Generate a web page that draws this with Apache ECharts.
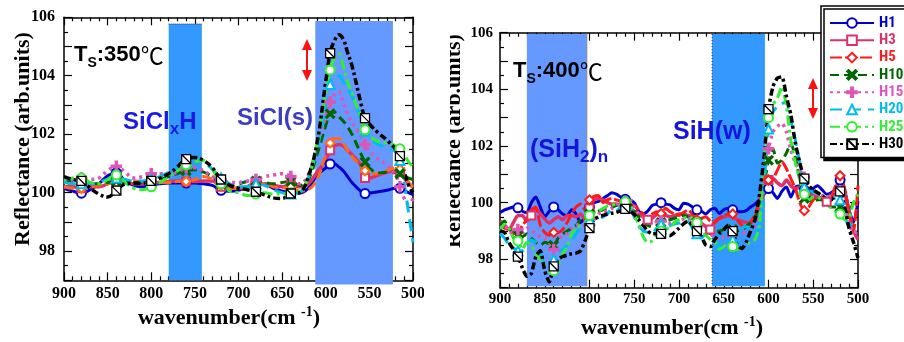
<!DOCTYPE html>
<html><head><meta charset="utf-8">
<script src="https://cdn.jsdelivr.net/npm/echarts@6/dist/echarts.min.js"></script>
<style>html,body{margin:0;padding:0;background:#fff}#c{width:904px;height:342px}</style>
</head><body><div id="c"></div>
<script>
const seriesNames = ['H1','H3','H5','H10','H15','H20','H25','H30'];
const xTicksLabels = [900,850,800,750,700,650,600,550,500];
const yTickLabels = [98,100,102,104,106];

// ---- left panel (Ts 350C) ----
const xLeft = [900,890,880,870,860,850,840,830,820,810,800,790,780,770,760,750,740,730,720,710,700,690,680,670,660,650,640,630,620,610,600,595,590,585,580,575,570,560,555,550,540,530,520,515,510,505,500];
const leftH1 = [100.15,100.05,99.98,100.1,100.3,100.58,100.68,100.4,100.25,100.2,
  100.25,100.3,100.33,100.33,100.33,100.33,100.3,100.25,100.08,100.05,
  100.08,100.2,100.35,100.3,100.15,100.05,100.0,99.98,100.15,100.6,
  100.85,100.98,100.98,100.88,100.75,100.55,100.35,100.05,99.97,99.98,
  100.03,100.08,100.15,100.15,100.08,100.0,99.93];
const leftH3 = [100.2,100.2,100.15,100.2,100.2,100.3,100.4,100.35,100.3,100.3,
  100.35,100.35,100.38,100.4,100.38,100.38,100.4,100.4,100.2,100.15,
  100.15,100.2,100.3,100.3,100.25,100.2,100.25,100.2,100.3,100.7,
  101.1,101.45,101.6,101.65,101.6,101.45,101.3,100.95,100.5,100.5,
  100.6,100.7,100.75,100.7,100.5,100.3,100.2];
const leftH5 = [100.2,100.15,100.15,100.2,100.25,100.3,100.35,100.4,100.4,100.38,
  100.35,100.35,100.35,100.38,100.38,100.45,100.55,100.45,100.25,100.15,
  100.15,100.2,100.3,100.3,100.2,100.15,100.2,100.05,100.1,100.45,
  101.3,101.7,101.85,101.85,101.7,101.45,101.25,100.9,100.75,100.65,
  100.65,100.75,100.85,100.8,100.6,100.35,100.2];
const leftH10 = [100.4,100.38,100.35,100.3,100.3,100.35,100.4,100.4,100.35,100.35,
  100.4,100.45,100.55,100.65,100.75,100.78,100.7,100.55,100.3,100.25,
  100.3,100.38,100.4,100.35,100.3,100.35,100.38,100.25,100.45,101.3,
  102.3,102.7,102.75,102.6,102.45,102.25,102.0,101.35,101.05,100.85,
  100.67,100.7,100.68,100.65,100.58,100.5,100.45];
const leftH15 = [100.35,100.45,100.5,100.45,100.5,100.75,100.9,100.7,100.5,100.55,
  100.65,100.65,100.65,100.7,100.85,100.85,100.75,100.55,100.45,100.35,
  100.35,100.4,100.45,100.55,100.6,100.65,100.55,100.3,100.6,101.6,
  102.6,103.1,103.35,103.45,103.1,102.7,102.4,101.95,101.65,101.45,
  101.15,100.95,100.6,100.2,99.8,99.6,99.8];
const leftH20 = [100.35,100.3,100.3,100.3,100.35,100.45,100.5,100.45,100.4,100.4,
  100.45,100.55,100.7,100.85,101.05,101.15,101.05,100.8,100.5,100.3,
  100.2,100.2,100.3,100.25,100.1,100.0,99.95,100.0,100.5,101.5,
  103.0,103.7,104.0,104.0,103.8,103.55,103.3,102.55,102.1,101.9,
  101.65,101.55,101.4,101.1,100.3,99.3,98.3];
const leftH25 = [100.45,100.5,100.5,100.35,100.3,100.45,100.6,100.35,100.15,100.1,
  100.2,100.35,100.55,100.75,100.95,101.05,101.1,100.8,100.3,100.05,
  100.0,99.9,99.95,100.0,99.95,99.95,100.0,100.05,100.5,101.7,
  103.4,104.2,104.6,104.75,104.35,103.8,103.4,102.6,102.15,101.95,
  101.75,101.7,101.6,101.5,101.3,101.05,100.9];
const leftH30 = [100.55,100.45,100.4,100.15,99.95,99.85,100.07,100.3,100.32,100.32,
  100.4,100.5,100.65,100.88,101.15,101.2,101.1,100.85,100.45,100.25,
  100.15,100.1,100.03,99.92,99.82,99.8,99.97,100.0,100.55,101.7,
  103.8,104.77,105.2,105.4,105.25,104.8,104.35,103.1,102.55,102.35,
  102.05,101.8,101.5,101.25,100.7,100.25,100.0];
const markersLeft = [880,840,800,760,720,680,640,595,555,515];

// ---- right panel (Ts 400C) ----
const xRight = [900,895,890,885,880,875,870,865,860,855,850,845,840,835,830,825,820,815,810,805,
  800,795,790,785,780,775,770,765,760,755,750,745,740,735,730,725,720,715,710,705,
  700,695,690,685,680,675,670,665,660,655,650,645,640,635,630,625,620,615,610,605,
  600,595,590,585,580,575,570,565,560,555,550,545,540,535,530,525,520,515,510,505,500];
const rightH1 = [99.65,99.75,99.8,99.85,99.82,99.7,99.65,100.0,100.2,99.85,
  99.5,99.7,99.85,99.75,99.6,99.55,99.75,99.6,99.3,99.5,
  99.85,100.0,100.05,100.15,100.25,100.35,100.3,100.2,100.12,100.1,
  100.0,99.7,99.6,99.7,99.9,99.95,100.0,99.95,99.92,99.8,
  99.75,99.98,99.95,99.85,99.75,99.7,99.6,99.75,99.8,99.62,
  99.75,99.8,99.75,99.7,99.68,99.72,99.85,99.95,100.1,100.3,
  100.5,100.35,100.15,100.4,100.55,100.2,100.55,100.6,100.45,100.15,
  100.5,100.6,100.45,100.3,100.35,100.5,100.8,100.45,99.75,99.3,
  100.05];
const rightH3 = [99.35,99.22,99.05,99.3,99.55,99.55,99.35,99.55,99.78,99.62,
  99.42,99.28,99.4,99.5,99.4,99.55,99.55,99.5,99.6,99.4,
  99.8,100.1,100.15,100.1,100.0,99.95,99.95,99.9,99.85,99.8,
  99.7,99.62,99.5,99.4,99.45,99.58,99.6,99.55,99.5,99.55,
  99.6,99.6,99.55,99.5,99.4,99.28,99.15,99.05,99.35,99.45,
  99.5,99.55,99.5,99.4,99.35,99.3,99.3,99.5,99.9,100.4,
  100.8,100.85,100.7,100.6,100.8,100.6,100.5,100.55,100.4,100.3,
  100.25,100.2,100.1,100.03,100.1,100.5,100.9,100.4,99.7,99.0,
  98.7];
const rightH5 = [99.2,99.1,99.05,99.0,98.95,99.2,99.4,99.75,99.85,99.2,
  98.95,98.85,98.95,98.95,99.05,99.3,99.6,99.85,99.95,99.75,
  100.1,100.22,100.25,100.0,100.1,100.15,100.1,100.05,100.0,99.95,
  99.9,99.75,99.6,99.45,99.6,99.68,99.62,99.8,99.68,99.6,
  99.55,99.65,99.74,99.6,99.4,99.45,99.5,99.35,99.3,99.45,
  99.55,99.6,99.6,99.4,99.2,99.1,99.3,99.6,100.1,100.6,
  100.8,100.85,101.15,101.45,101.2,100.85,100.5,100.0,99.72,99.85,
  100.1,100.2,100.15,100.08,100.2,100.6,100.95,100.5,99.6,99.0,
  100.6];
const rightH10 = [99.2,99.35,99.1,98.9,98.85,98.8,98.9,98.75,98.6,98.5,
  98.6,98.55,98.5,98.75,98.9,99.0,99.1,99.2,99.4,99.5,
  99.6,99.65,99.7,99.75,99.8,99.85,99.9,99.95,100.0,99.95,
  99.75,99.5,99.3,99.2,99.15,99.2,99.3,99.35,99.4,99.45,
  99.5,99.55,99.5,99.4,99.3,99.2,99.05,98.9,98.95,99.0,
  99.05,99.1,99.05,99.0,99.05,99.15,99.3,99.5,99.8,100.6,
  101.5,101.9,101.4,101.5,101.75,102.1,101.6,100.8,100.15,100.1,
  100.05,100.1,100.1,99.95,99.85,99.85,99.85,99.7,99.65,100.0,
  99.85];
const rightH15 = [99.1,99.2,99.0,98.9,99.05,98.95,99.1,99.05,98.9,98.8,
  98.75,98.6,98.35,98.7,98.85,98.92,99.1,99.2,99.25,99.2,
  99.2,99.4,99.6,99.7,99.72,99.8,99.9,100.0,100.05,100.1,
  99.85,99.6,99.5,99.4,99.35,99.33,99.35,99.3,99.27,99.3,
  99.38,99.42,99.45,99.4,99.28,99.2,99.1,98.95,98.72,98.7,
  98.78,98.82,98.85,98.9,98.92,98.95,99.0,99.1,99.6,100.9,
  101.9,102.5,102.7,102.8,102.5,101.85,101.4,101.15,100.9,100.5,
  100.35,100.3,100.25,100.2,100.25,100.33,100.35,99.9,99.3,98.95,
  99.0];
const rightH20 = [98.9,98.75,98.5,98.4,98.3,98.3,98.5,98.68,98.6,98.2,
  97.85,97.75,98.0,98.25,98.33,98.5,98.65,98.9,99.1,99.3,
  99.4,99.4,99.4,99.5,99.6,99.78,99.7,99.85,99.95,99.85,
  99.5,99.2,99.0,98.95,98.92,99.1,99.25,99.15,99.2,99.25,
  99.28,99.35,99.35,99.1,98.9,98.75,98.9,98.85,98.75,98.5,
  98.5,98.6,98.7,98.8,99.1,99.15,99.1,98.95,99.3,100.6,
  102.6,103.2,103.4,103.5,103.55,102.9,102.2,101.4,100.55,100.45,
  100.37,100.3,100.2,100.17,100.15,100.15,100.1,99.55,99.15,99.35,
  99.37];
const rightH25 = [99.0,99.25,99.1,98.75,98.65,98.35,98.6,98.5,98.2,98.0,
  97.8,97.65,97.6,97.8,98.2,98.45,98.9,99.1,99.2,99.3,
  99.55,99.65,99.7,99.8,99.88,99.92,99.95,99.98,100.03,99.9,
  99.6,99.2,98.8,98.6,98.65,98.85,99.0,99.05,99.15,99.3,
  99.4,99.45,99.5,99.45,99.3,99.05,98.85,98.7,98.6,98.35,
  98.45,98.55,98.45,98.35,98.4,98.55,98.6,98.7,99.2,101.5,
  103.0,103.45,103.7,104.1,103.4,102.2,101.4,100.8,100.3,100.1,
  100.2,100.2,100.05,99.95,99.8,99.7,99.6,99.4,99.45,100.0,
  100.3];
const rightH30 = [99.0,98.95,98.6,98.35,98.1,97.7,97.4,97.5,98.1,98.3,
  97.6,97.2,97.75,98.0,98.1,98.15,98.2,98.22,98.3,98.65,
  99.1,99.4,99.5,99.55,99.6,99.63,99.66,99.72,99.78,99.72,
  99.58,99.4,99.2,99.0,98.9,98.9,98.9,98.88,98.84,98.95,
  99.1,99.25,99.35,99.2,99.0,98.8,98.5,98.45,98.7,98.9,
  99.05,99.2,99.0,98.5,98.38,98.6,99.0,99.4,100.3,101.6,
  103.3,104.1,104.4,104.44,103.75,103.1,102.1,101.4,100.85,100.6,
  100.45,100.35,100.25,100.12,100.1,100.3,100.4,99.85,99.1,98.6,
  98.05];
const markersRight = [880,840,800,760,720,680,640,600,560,520];
const markersRightH3 = [865,800,735,665,600,535];

// ---- styling ----
const SANS = "'Liberation Sans', Arial, sans-serif";
const SERIF = "'Liberation Serif', 'Times New Roman', serif";
const X_PATH = 'path://M0,1.4L1.4,0L5,3.6L8.6,0L10,1.4L6.4,5L10,8.6L8.6,10L5,6.4L1.4,10L0,8.6L3.6,5Z';
const PLUS_PATH = 'path://M4,0H6V4H10V6H6V10H4V6H0V4H4Z';
const BOX_PATH = 'path://M0,0H10V10H0Z M0,0L10,10';
const styles = {
  H1:{color:'#0000CC', width:3, type:'solid', symbol:'emptyCircle', size:9},
  H3:{color:'#E0306A', width:3.5, type:'solid', symbol:'emptyRect', size:8},
  H5:{color:'#FF1A1A', width:3, type:[12,3], symbol:'emptyDiamond', size:9},
  H10:{color:'#006600', width:3, type:[9,5], symbol:X_PATH, size:9},
  H15:{color:'#DD55BB', width:3.5, type:[3,4], symbol:PLUS_PATH, size:10},
  H20:{color:'#00BBEE', width:3, type:[12,7], symbol:'emptyTriangle', size:9},
  H25:{color:'#33EE33', width:3, type:[10,4,3,4], symbol:'emptyCircle', size:9},
  H30:{color:'#000000', width:3.5, type:[7,3,3,3], symbol:BOX_PATH, size:9, fill:'#fff'}
};
const leftData = {H1:leftH1,H3:leftH3,H5:leftH5,H10:leftH10,H15:leftH15,H20:leftH20,H25:leftH25,H30:leftH30};
const rightData = {H1:rightH1,H3:rightH3,H5:rightH5,H10:rightH10,H15:rightH15,H20:rightH20,H25:rightH25,H30:rightH30};

function makeSeries(name, xs, ys, markers, axIdx, st, smooth) {
  return {
    type:'line', name, xAxisIndex:axIdx, yAxisIndex:axIdx, smooth,
    data: xs.map((w,i)=>({value:[w, ys[i]], symbol: markers.includes(w) ? st.symbol : 'none'})),
    symbol: st.symbol, symbolSize: st.size, showSymbol:true, showAllSymbol:true,
    lineStyle:{color:st.color, width:st.width, type:st.type},
    itemStyle:{color: st.fill || st.color, borderColor:st.color, borderWidth: st.fill ? 1.3 : 1.5},
    emphasis:{disabled:true}, animation:false, clip:true
  };
}
const series = [];
seriesNames.forEach(n => series.push(makeSeries(n, xRight, rightData[n], n==='H3'?markersRightH3:markersRight, 2, styles[n], 0.2)));
seriesNames.forEach(n => {
  let st = styles[n];
  if (n === 'H5') st = Object.assign({}, st, {color:'#FF6A1A', type:[10,4]});
  series.push(makeSeries(n, xLeft, leftData[n], markersLeft, 0, st, 0.4));
});

function xAx(grid, pos, labels, fs, margin) {
  return {type:'value', gridIndex:grid, position:pos, min:500, max:900, interval:50, inverse:true,
    axisLine:{show:true, onZero:false, lineStyle:{color:'#000', width:1.5}},
    axisTick:{show:true, inside:true, length:8, lineStyle:{color:'#000', width:1.2}},
    minorTick:{show:true, splitNumber:5, length:4, lineStyle:{color:'#000', width:1.2}},
    axisLabel:{show:labels, fontFamily:SERIF, fontWeight:'bold', fontSize:fs, color:'#000', margin,
      formatter: v => xTicksLabels.includes(v) ? String(v) : ''},
    splitLine:{show:false}, minorSplitLine:{show:false}};
}
function yAx(grid, pos, labels, fs, margin) {
  return {type:'value', gridIndex:grid, position:pos, min:97, max:106, interval:1,
    axisLine:{show:true, onZero:false, lineStyle:{color:'#000', width:1.5}},
    axisTick:{show:true, inside:true, length:8, lineStyle:{color:'#000', width:1.2}},
    minorTick:{show:true, splitNumber:2, length:4, lineStyle:{color:'#000', width:1.2}},
    axisLabel:{show:labels, fontFamily:SERIF, fontWeight:'bold', fontSize:fs, color:'#000', margin,
      formatter: v => yTickLabels.includes(v) ? String(v) : ''},
    splitLine:{show:false}, minorSplitLine:{show:false}};
}

const chart = echarts.init(document.getElementById('c'), null, {renderer:'canvas', width:904, height:342});
chart.setOption({
  animation:false,
  backgroundColor:'#fff',
  grid:[{left:64, top:17.3, width:349, height:263}, {left:500, top:32.7, width:358, height:255}],
  xAxis:[xAx(0,'bottom',true,16,6), xAx(0,'top',false,16,6), xAx(1,'bottom',true,15,4), xAx(1,'top',false,15,4)],
  yAxis:[yAx(0,'left',true,16,9), yAx(0,'right',false,16,9), yAx(1,'left',true,15,7), yAx(1,'right',false,15,7)],
  legend:{
    left:821, top:6, orient:'vertical', itemWidth:44, itemHeight:12, itemGap:2.3,
    padding:[9.5,12,6,8], backgroundColor:'#fff', borderColor:'#000', borderWidth:1.5,
    shadowColor:'#000', shadowOffsetX:3, shadowOffsetY:3, shadowBlur:0,
    selectedMode:false, z:20,
    textStyle:{fontFamily:"'Liberation Sans Narrow', 'Roboto Condensed', 'Liberation Sans', sans-serif", fontWeight:'bold', fontSize:15},
    data: seriesNames.map(n => ({name:n, textStyle:{color:styles[n].color}}))
  },
  series
});

function px(si, w, v) { return chart.convertToPixel({seriesIndex:si}, [w, v]); }
const L = 8, R = 0;
function band(si, w1, w2, v1, v2, color) {
  const a = px(si, w1, v1), b = px(si, w2, v2);
  return {type:'rect', z:1, silent:true,
    shape:{x:Math.min(a[0],b[0]), y:Math.min(a[1],b[1]), width:Math.abs(b[0]-a[0]), height:Math.abs(b[1]-a[1])},
    style:{fill:color}};
}
function vline(si, w, v1, v2, stroke, dash) {
  const a = px(si, w, v1), b = px(si, w, v2);
  return {type:'line', z:1, silent:true, shape:{x1:a[0], y1:a[1], x2:b[0], y2:b[1]},
    style:{stroke, lineWidth:1, lineDash:dash}};
}
function hline(si, w1, w2, v, stroke, dash) {
  const a = px(si, w1, v), b = px(si, w2, v);
  return {type:'line', z:1, silent:true, shape:{x1:a[0], y1:a[1], x2:b[0], y2:b[1]},
    style:{stroke, lineWidth:1, lineDash:dash}};
}
function arrow(x, y1, y2) {
  return [
    {type:'line', z:6, silent:true, shape:{x1:x, y1:y1+8, x2:x, y2:y2-8}, style:{stroke:'#FF1010', lineWidth:2}},
    {type:'polygon', z:6, silent:true, shape:{points:[[x,y1],[x-5,y1+11],[x+5,y1+11]]}, style:{fill:'#FF1010'}},
    {type:'polygon', z:6, silent:true, shape:{points:[[x,y2],[x-5,y2-11],[x+5,y2-11]]}, style:{fill:'#FF1010'}}
  ];
}
function rtext(x, y, text, rich, align, rot) {
  return {type:'text', z:7, silent:true, x, y, rotation: rot || 0,
    style:{text, rich, align: align || 'left', verticalAlign:'middle', textAlign: align || 'left', textVerticalAlign:'middle'}};
}
const blackTs = {
  a:{fontSize:22, fontWeight:'bold', fontFamily:SANS, fill:'#000', lineHeight:30},
  s:{fontSize:14, fontWeight:'bold', fontFamily:SANS, fill:'#000', lineHeight:14, verticalAlign:'bottom'},
  c:{fontSize:23, fontFamily:"'Noto Sans CJK JP', sans-serif", fill:'#000', lineHeight:30}
};
function blueRich(color, size) {
  return {
    a:{fontSize:size, fontWeight:'bold', fontFamily:SANS, fill:color, lineHeight:32},
    s:{fontSize:17, fontWeight:'bold', fontFamily:SANS, fill:color, lineHeight:16, verticalAlign:'bottom'}
  };
}
const titleRich = {
  a:{fontSize:22, fontWeight:'bold', fontFamily:SERIF, fill:'#000', lineHeight:26},
  p:{fontSize:22, fontFamily:SERIF, fill:'#000', lineHeight:26},
  sup:{fontSize:14, fontWeight:'bold', fontFamily:SERIF, fill:'#000', lineHeight:10, verticalAlign:'top'}
};
const yTitleRich = {a:{fontSize:22, fontWeight:'bold', fontFamily:SERIF, fill:'#000'}};

const g = [
  band(L, 780, 742, 105.77, 97, '#3399FF'),
  hline(L, 780, 742, 105.77, '#333', [1,1]),
  band(L, 612, 523, 105.87, 96.86, '#6699FF'),
  band(R, 870, 803, 105.95, 97.05, '#6699FF'),
  vline(R, 803, 105.95, 97.05, '#888', null),
  band(R, 663, 604, 105.95, 97.05, '#3399FF'),
  vline(R, 663, 105.95, 97.05, '#222', [1,2]),
  rtext(74, 55, '{a|T}{s|S}{a|:350}{c|℃}', blackTs),
  rtext(513, 71, '{a|T}{s|S}{a|:400}{c|℃}', blackTs),
  rtext(123, 122, '{a|SiCl}{s|x}{a|H}', blueRich('#1A1AE8', 24)),
  rtext(237, 118, '{a|SiCl(s)}', blueRich('#3C3CC4', 24)),
  rtext(530, 150, '{a|(SiH}{s|2}{a|)}{s|n}', blueRich('#1414DC', 25)),
  rtext(673, 132, '{a|SiH(w)}', blueRich('#1414E0', 25)),
  ...arrow(307, 39, 81),
  ...arrow(813, 78, 119),
  rtext(229, 318, '{a|wavenumber(cm}{p| }{sup|-1}{a|)}', titleRich, 'center'),
  rtext(672, 328, '{a|wavenumber(cm}{p| }{sup|-1}{a|)}', titleRich, 'center'),
  rtext(23, 139, '{a|Reflectance (arb.units)}', yTitleRich, 'center', Math.PI/2),
  rtext(454, 141, '{a|Reflectance (arb.units)}', yTitleRich, 'center', Math.PI/2),
  {type:'rect', z:8, silent:true, shape:{x:424, y:0, width:26, height:342}, style:{fill:'#fff'}}
];
chart.setOption({graphic: g});
</script>
</body></html>
